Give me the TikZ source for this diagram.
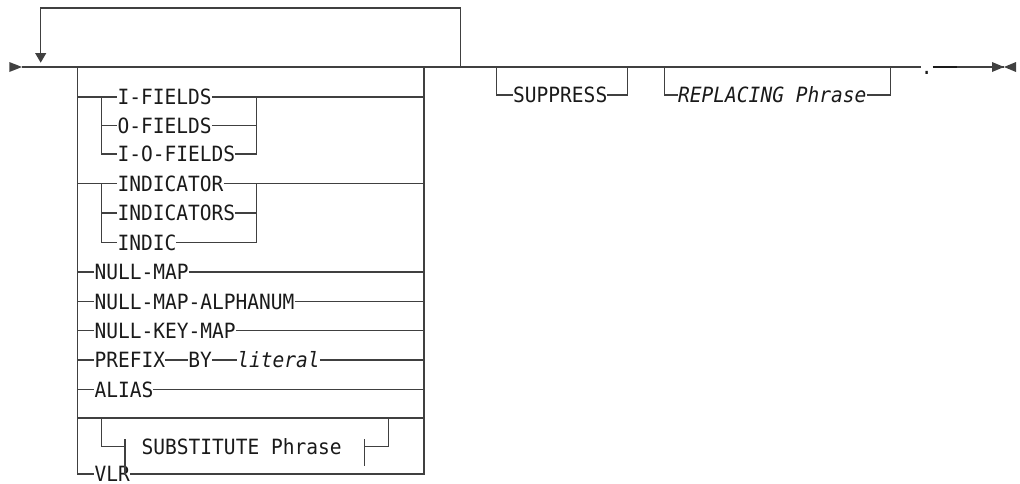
\documentclass[tikz,border=0pt]{standalone}
\usepackage{fontspec}
\setmonofont[FakeStretch=0.93]{DejaVu Sans Mono}
\usetikzlibrary{positioning, arrows.meta}
\definecolor{rail}{HTML}{404040}
\definecolor{ink}{HTML}{1A1A1A}
\tikzset{
  kw/.style={anchor=west, inner sep=0pt, text height=15.3pt, text depth=0pt,
    text=ink, font=\ttfamily\fontsize{21}{22}\selectfont},
  var/.style={kw, font=\ttfamily\itshape\fontsize{21}{22}\selectfont},
  track/.style={draw=rail, line width=1.1pt},
}
\begin{document}
\begin{tikzpicture}[x=1pt, y=-1pt]
   \useasboundingbox (0,0) rectangle (1020,483);

   % Verzweigungspunkte
   \coordinate (beg)     at (22,67);
   \coordinate (loopR)   at (460.5,67);
   \coordinate (loopL)   at (40.7,62.7);
   \coordinate (loopTop) at (0,8);
   \coordinate (boxL)    at (77.3,67);
   \coordinate (boxR)    at (424,67);
   \coordinate (inL)     at (101.3,0);
   \coordinate (inR)     at (256.7,0);
   \coordinate (subL)    at (101.5,0);
   \coordinate (subR)    at (388.3,0);
   \coordinate (barLt)   at (125,439);
   \coordinate (barLb)   at (125,475);
   \coordinate (barRt)   at (364.3,439);
   \coordinate (barRb)   at (364.3,466);
   \coordinate (blank)   at (0,418);
   \coordinate (supL)    at (496.3,67);
   \coordinate (supR)    at (627.7,67);
   \coordinate (repL)    at (664.3,67);
   \coordinate (repR)    at (890.7,67);
   \coordinate (thk)     at (956.7,67);
   \coordinate (fin)     at (1004,67);

   % Schluesselwoerter
   \node[kw] (ifl)   at (117.3,97)    {I-FIELDS};
   \node[kw] (ofl)   at (117.3,125.5) {O-FIELDS};
   \node[kw] (iofl)  at (117.3,154)   {I-O-FIELDS};
   \node[kw] (ind)   at (117.3,183.5) {INDICATOR};
   \node[kw] (inds)  at (117.3,213)   {INDICATORS};
   \node[kw] (indc)  at (117.3,242.5) {INDIC};
   \node[kw] (nmap)  at (94.3,272)    {NULL-MAP};
   \node[kw] (nmapa) at (94.3,301.5)  {NULL-MAP-ALPHANUM};
   \node[kw] (nkmap) at (94.3,330.5)  {NULL-KEY-MAP};
   \node[kw] (pfx)   at (94.3,360)    {PREFIX};
   \node[kw, right=23pt of pfx] (by)  {BY};
   \node[var, right=25pt of by] (lit) {literal};
   \node[kw] (alias) at (94.3,389.5)  {ALIAS};
   \node[kw] (sub)   at (141.5,446.5) {SUBSTITUTE Phrase};
   \node[kw] (vlr)   at (94.3,474)    {VLR};
   \node[kw] (sup)   at (513,95)      {SUPPRESS};
   \node[var] (rep)  at (678,95)      {REPLACING Phrase};
   \node[kw, anchor=center] (dot) at (926.7,67) {.};

   % Hauptlinie mit Ruecksprung
   \fill[rail] (beg) ++(-12.7,-5) -- (beg) -- ++(-12.7,5) -- cycle;
   \draw[track] (beg) -- (dot);
   \draw[track] (dot) -- (fin);
   \draw[draw=ink, line width=2.2pt] (dot) -- (thk);
   \draw[track, -{Triangle[width=11pt, length=9.7pt]}]
     (loopR) -- (loopR |- loopTop) -- (loopL |- loopTop) -- (loopL);
   \fill[rail] (fin) -- ++(-12,-5) -- ++(0,10) -- cycle;
   \fill[rail] (fin) -- ++(12,-5) -- ++(0,10) -- cycle;

   % Auswahlblock
   \draw[track] (boxL) -- (boxL |- vlr) -- (vlr) -- (boxR |- vlr) -- (boxR);
   \draw[track] (boxL |- ifl) -- (ifl) -- (boxR |- ifl);
   \draw[track] (inL |- ifl) -- (inL |- iofl) -- (iofl) -- (inR |- iofl) -- (inR |- ifl);
   \draw[track] (inL |- ofl) -- (ofl) -- (inR |- ofl);
   \draw[track] (boxL |- ind) -- (ind) -- (boxR |- ind);
   \draw[track] (inL |- ind) -- (inL |- indc) -- (indc) -- (inR |- indc) -- (inR |- ind);
   \draw[track] (inL |- inds) -- (inds) -- (inR |- inds);
   \foreach \n in {nmap, nmapa, nkmap, alias}
     \draw[track] (boxL |- \n) -- (\n) -- (boxR |- \n);
   \draw[track] (boxL |- pfx) -- (pfx) -- (by) -- (lit) -- (boxR |- lit);
   \draw[track] (boxL |- blank) -- (boxR |- blank);

   % Fragmentverweis
   \draw[track] (subL |- blank) -- (subL |- sub) -- (barLt |- sub);
   \draw[track] (barLt) -- (barLb);
   \draw[track] (barRt) -- (barRb);
   \draw[track] (barRt |- sub) -- (subR |- sub) -- (subR |- blank);

   % optionale Zusaetze
   \draw[track] (supL) -- (supL |- sup) -- (sup) -- (supR |- sup) -- (supR);
   \draw[track] (repL) -- (repL |- rep) -- (rep) -- (repR |- rep) -- (repR);
\end{tikzpicture}
\end{document}
